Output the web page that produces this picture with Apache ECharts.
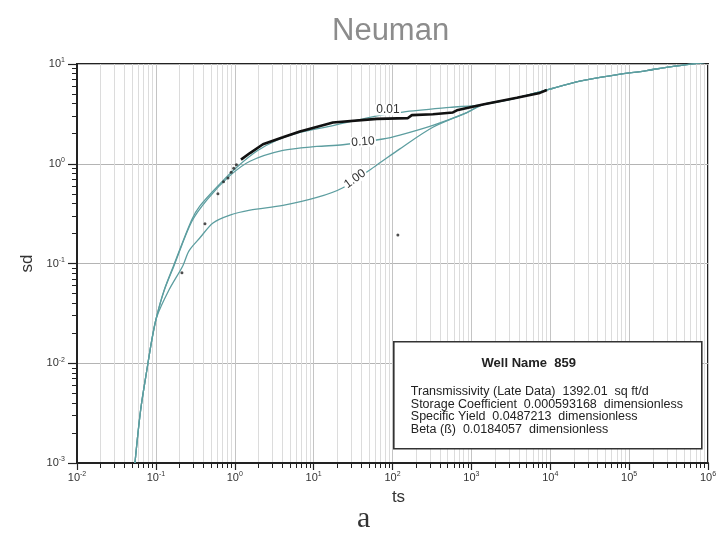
<!DOCTYPE html>
<html>
<head>
<meta charset="utf-8">
<title>Neuman</title>
<script src="https://cdn.jsdelivr.net/npm/echarts@6/dist/echarts.min.js"></script>
<style>
  html, body { margin: 0; padding: 0; background: #fff; }
  #main { width: 724px; height: 535px; }
</style>
</head>
<body>
<div id="main"></div>
<script>
// type curves (ts, sd)
var beta001Ts = [0.0543, 0.0641, 0.0787, 0.0885, 0.102, 0.127, 0.169, 0.284, 0.362, 0.648, 1.07, 1.91, 3.43, 6.70, 17.6, 63.4, 135, 534, 1400];
var beta001Sd = [0.001, 0.0034, 0.0096, 0.0169, 0.0291, 0.0536, 0.0966, 0.273, 0.378, 0.628, 0.927, 1.34, 1.72, 2.06, 2.41, 3.02, 3.30, 3.67, 3.92];

var beta010Ts = [0.0543, 0.0641, 0.0787, 0.0885, 0.102, 0.127, 0.169, 0.284, 0.45, 0.869, 1.56, 4.08, 11.0, 23.5, 75.5, 124, 325, 877, 1400];
var beta010Sd = [0.001, 0.0034, 0.0096, 0.0169, 0.029, 0.0532, 0.094, 0.262, 0.44, 0.76, 1.06, 1.36, 1.49, 1.55, 1.77, 1.94, 2.43, 3.26, 3.92];

var beta100Ts = [0.0543, 0.0641, 0.0787, 0.0885, 0.102, 0.147, 0.220, 0.263, 0.362, 0.530, 0.869, 1.56, 4.08, 11.0, 23.5, 63.4, 124, 325, 877, 1400];
var beta100Sd = [0.001, 0.0034, 0.0096, 0.0168, 0.0288, 0.0545, 0.0951, 0.134, 0.181, 0.255, 0.306, 0.343, 0.383, 0.459, 0.575, 0.973, 1.41, 2.32, 3.26, 3.92];

// shared late-time branch
var lateTs = [3360, 8050, 23700, 62100, 167000, 328000, 539000, 940000];
var lateSd = [4.48, 5.36, 6.73, 7.69, 8.59, 9.38, 9.85, 10.4];

// measured drawdown
var dataTs = [1.20, 1.56, 2.28, 4.08, 6.70, 17.6, 63.4, 157, 176, 325, 583, 655, 1400, 3770, 7380, 9060];
var dataSd = [1.10, 1.28, 1.57, 1.84, 2.11, 2.59, 2.82, 2.87, 3.07, 3.13, 3.27, 3.43, 3.92, 4.58, 5.13, 5.49];
var looseTs = [0.214, 0.419, 0.612, 0.72, 0.821, 0.90, 0.97, 1.05, 117];
var looseSd = [0.081, 0.250, 0.499, 0.66, 0.719, 0.82, 0.90, 0.98, 0.193];

// where the beta labels sit on each curve
var curveNames = ['0.01', '0.10', '1.00'];
var labelTs = [87.4, 42.2, 33.4];
var labelSd = [3.46, 1.66, 0.706];
var labelRot = [0, 4, 36];

var infoLines = [
  'Transmissivity (Late Data)  1392.01  sq ft/d',
  'Storage Coefficient  0.000593168  dimensionless',
  'Specific Yield  0.0487213  dimensionless',
  'Beta (ß)  0.0184057  dimensionless'
];

function pairs(xs, ys) {
  var out = [];
  for (var i = 0; i < xs.length; i++) out.push([xs[i], ys[i]]);
  return out;
}

var curveColor = '#5d9ea0';
var font = 'Liberation Sans, Arial, sans-serif';

function powLabel(v) {
  var e = Math.round(Math.log10(v));
  return '{b|10}{s|' + e + '}';
}
var powRich = {
  b: { fontSize: 11, color: '#333', fontFamily: font },
  s: { fontSize: 7, color: '#333', fontFamily: font, padding: [0, 0, 7, 0] }
};

function curveSeries(idx, ts, sd) {
  return {
    type: 'line',
    name: curveNames[idx],
    data: pairs(ts.concat(lateTs), sd.concat(lateSd)),
    showSymbol: false,
    smooth: 0.3,
    lineStyle: { color: curveColor, width: 1.3 },
    z: 3,
    markPoint: {
      symbol: 'rect',
      symbolSize: [26, 11],
      symbolRotate: labelRot[idx],
      itemStyle: { color: '#fff' },
      label: {
        show: true, position: 'inside', formatter: curveNames[idx],
        color: '#333', fontSize: 12, fontFamily: font, rotate: labelRot[idx]
      },
      data: [{ coord: [labelTs[idx], labelSd[idx]] }]
    }
  };
}

var infoText = function (i) {
  return {
    type: 'text', x: 17, y: 50 + i * 12.5, z: 101,
    style: { text: infoLines[i], fontSize: 12.5, fontFamily: font, fill: '#222', textVerticalAlign: 'middle' }
  };
};

var myChart = echarts.init(document.getElementById('main'));

var option = {
  animation: false,
  backgroundColor: '#fff',
  title: {
    text: 'Neuman',
    left: 327, top: 11,
    textStyle: { color: '#8c8c8c', fontSize: 31, fontWeight: 'normal', fontFamily: font }
  },
  grid: {
    left: 77, right: 16, top: 64, bottom: 72,
    show: true, borderColor: '#222', borderWidth: 2
  },
  xAxis: {
    type: 'log', logBase: 10, min: 0.01, max: 1000000, splitNumber: 8,
    name: 'ts', nameLocation: 'middle', nameGap: 22,
    nameTextStyle: { color: '#333', fontSize: 17, fontFamily: font, padding: [0, 0, 0, 12] },
    axisLine: { lineStyle: { color: '#222', width: 2 } },
    axisTick: { length: 7, lineStyle: { color: '#222', width: 1.2 } },
    minorTick: { show: true, splitNumber: 9, length: 5, lineStyle: { color: '#222', width: 1 } },
    axisLabel: { formatter: powLabel, rich: powRich, margin: 8 },
    splitLine: { show: true, lineStyle: { color: '#c4c4c4', width: 1 } },
    minorSplitLine: { show: true, lineStyle: { color: '#dcdcdc', width: 1 } }
  },
  yAxis: {
    type: 'log', logBase: 10, min: 0.001, max: 10, splitNumber: 4,
    name: 'sd', nameLocation: 'middle', nameGap: 34, nameRotate: 90,
    nameTextStyle: { color: '#333', fontSize: 17, fontFamily: font },
    axisLine: { lineStyle: { color: '#222', width: 2 } },
    axisTick: { length: 9, lineStyle: { color: '#222', width: 1.2 } },
    minorTick: { show: true, splitNumber: 9, length: 5, lineStyle: { color: '#222', width: 1 } },
    axisLabel: { formatter: powLabel, rich: powRich, margin: 12 },
    splitLine: { show: true, lineStyle: { color: '#b4b4b4', width: 1.2 } }
  },
  series: [
    curveSeries(0, beta001Ts, beta001Sd),
    curveSeries(1, beta010Ts, beta010Sd),
    curveSeries(2, beta100Ts, beta100Sd),
    {
      type: 'line', name: 'data',
      data: pairs(dataTs, dataSd),
      showSymbol: false,
      lineStyle: { color: '#111', width: 2.6 },
      z: 4
    },
    {
      type: 'scatter', name: 'early data',
      data: pairs(looseTs, looseSd),
      symbolSize: 3,
      itemStyle: { color: '#222' },
      z: 4
    }
  ],
  graphic: [
    {
      type: 'text', left: 357, top: 504, z: 100,
      style: { text: 'a', fontSize: 30, fontFamily: 'Liberation Serif, serif', fill: '#333' }
    },
    {
      type: 'group', left: 393, top: 341, z: 100,
      children: [
        { type: 'rect', z: 100, shape: { x: 0, y: 0, width: 308, height: 107 },
          style: { fill: '#fff', stroke: '#333', lineWidth: 1.6 } },
        { type: 'text', x: 135, y: 22, z: 101,
          style: { text: 'Well Name  859', fontSize: 13, fontWeight: 'bold', fontFamily: font,
                   fill: '#222', textAlign: 'center', textVerticalAlign: 'middle' } },
        infoText(0), infoText(1), infoText(2), infoText(3)
      ]
    }
  ]
};

myChart.setOption(option);
window.onresize = myChart.resize;
</script>
</body>
</html>
